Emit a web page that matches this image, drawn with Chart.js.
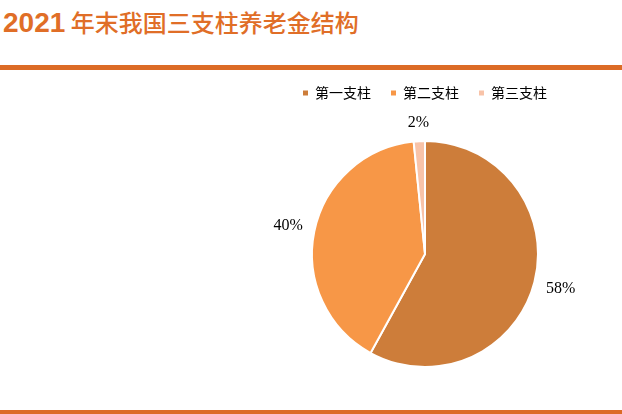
<!DOCTYPE html>
<html>
<head>
<meta charset="utf-8">
<script src="https://cdn.jsdelivr.net/npm/chart.js@4/dist/chart.umd.min.js"></script>
<style>
  html, body { margin: 0; padding: 0; background: #fff; overflow: hidden; }
  #page { position: relative; width: 622px; height: 414px; }
  #title {
    position: absolute; left: 3px; top: 4px;
    color: #e06e27; font-size: 24px; white-space: nowrap;
    font-family: "Noto Sans CJK SC", sans-serif; font-weight: 500;
  }
  #title b { font-family: "Liberation Sans", Arial, sans-serif; font-size: 28px; font-weight: 700; }
  .rule { position: absolute; left: 0; width: 622px; background: #dc6b26; }
  #wrap { position: absolute; left: 0; top: 0; width: 622px; height: 414px; }
</style>
</head>
<body>
<div id="page">
  <div id="title"><b>2021</b> 年末我国三支柱养老金结构</div>
  <div class="rule" style="top:65px;height:5px"></div>
  <div class="rule" style="top:410px;height:4px"></div>
  <div id="wrap"><canvas id="pieChart"></canvas></div>
</div>
<script>
// data
const pillars = ["第一支柱", "第二支柱", "第三支柱"];
const shares = [58, 40.4, 1.6];
const colors = ["#cd7d3a", "#f79747", "#f8c3a8"];

// percent labels outside each slice
const outsideLabels = {
  id: "outsideLabels",
  afterDatasetsDraw(chart) {
    const ctx = chart.ctx;
    const meta = chart.getDatasetMeta(0);
    const total = shares.reduce((a, b) => a + b, 0);
    ctx.save();
    ctx.font = "16px 'Liberation Serif', 'Times New Roman', serif";
    ctx.fillStyle = "#000";
    ctx.textAlign = "center";
    ctx.textBaseline = "middle";
    meta.data.forEach((arc, i) => {
      const p = arc.getProps(["x", "y", "startAngle", "endAngle", "outerRadius"], true);
      const mid = (p.startAngle + p.endAngle) / 2;
      const text = Math.round((shares[i] / total) * 100) + "%";
      const w = ctx.measureText(text).width;
      const cos = Math.cos(mid);
      const sin = Math.sin(mid);
      const dist = p.outerRadius + 11 + (Math.abs(cos) * w) / 2 + Math.abs(sin) * 7;
      ctx.fillText(text, p.x + cos * dist, p.y + sin * dist);
    });
    ctx.restore();
  },
};

const ctx = document.getElementById("pieChart").getContext("2d");
const pieChart = new Chart(ctx, {
  type: "pie",
  data: {
    labels: pillars,
    datasets: [
      {
        data: shares,
        backgroundColor: colors,
        borderColor: "#fff",
        borderWidth: 2,
        radius: 113,
      },
    ],
  },
  options: {
    responsive: true,
    maintainAspectRatio: false,
    animation: false,
    layout: { padding: { left: 228, right: 0, top: 66, bottom: 16 } },
    plugins: {
      tooltip: { enabled: false },
      legend: {
        position: "top",
        labels: {
          boxWidth: 5,
          boxHeight: 5,
          padding: 20,
          color: "#222",
          font: { family: "'Noto Sans CJK SC', sans-serif", size: 14 },
          generateLabels: () =>
            pillars.map((text, i) => ({
              text,
              fillStyle: colors[i],
              strokeStyle: colors[i],
              lineWidth: 0,
              hidden: false,
              index: i,
            })),
        },
      },
    },
  },
  plugins: [outsideLabels],
});
</script>
</body>
</html>
